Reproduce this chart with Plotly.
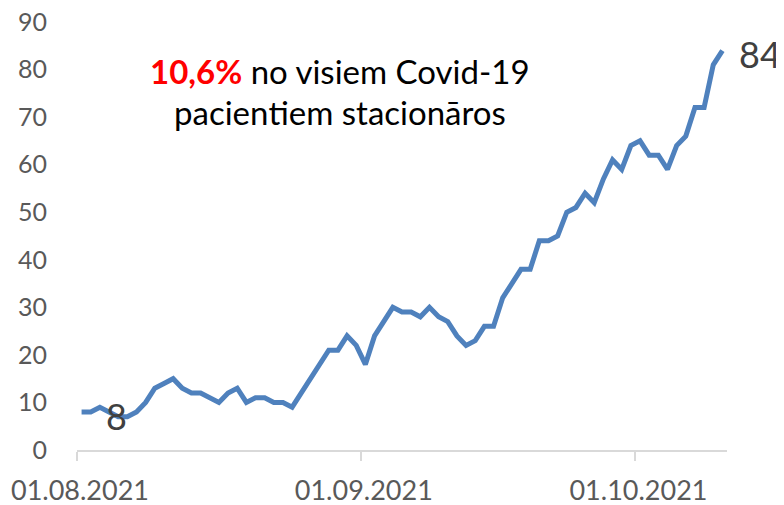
import pandas as pd
import plotly.graph_objects as go

start_date = "2021-08-01"
values = [8, 8, 9, 8, 7, 7, 8, 10, 13, 14, 15, 13, 12, 12, 11, 10, 12, 13, 10, 11,
          11, 10, 10, 9, 12, 15, 18, 21, 21, 24, 22, 18, 24, 27, 30, 29, 29, 28, 30, 28,
          27, 24, 22, 23, 26, 26, 32, 35, 38, 38, 44, 44, 45, 50, 51, 54, 52, 57, 61, 59,
          64, 65, 62, 62, 59, 64, 66, 72, 72, 81, 84]
dates = pd.date_range(start_date, periods=len(values), freq="D")
tick_dates = ["2021-08-01", "2021-09-01", "2021-10-01"]
tick_labels = ["01.08.2021", "01.09.2021", "01.10.2021"]
y_ticks = list(range(0, 91, 10))

FONT = "Lato"
GREY = "#595959"

fig = go.Figure()
fig.add_trace(go.Scatter(
    x=dates, y=values, mode="lines",
    xperiod=86400000, xperiodalignment="middle",
    line=dict(color="#4F81BD", width=5),
    hoverinfo="skip", showlegend=False, cliponaxis=False,
))

# data labels for first and last point
fig.add_annotation(x=dates[0] + pd.Timedelta(hours=12), y=values[0], text=str(values[0]),
                   xref="x", yref="y", showarrow=False, xanchor="left", yanchor="middle",
                   xshift=22, yshift=-4, font=dict(family=FONT, size=36, color="#404040"))
fig.add_annotation(x=dates[-1] + pd.Timedelta(hours=12), y=values[-1], text=str(values[-1]),
                   xref="x", yref="y", showarrow=False, xanchor="left", yanchor="middle",
                   xshift=15, yshift=-3, font=dict(family=FONT, size=36, color="#404040"))

fig.add_annotation(x=0.4046, y=0.886, xref="paper", yref="paper", showarrow=False,
                   xanchor="center", yanchor="middle",
                   text="<b><span style='color:#FF0000'>10,6%</span></b> no visiem Covid-19",
                   font=dict(family=FONT, size=33, color="#000000"))
fig.add_annotation(x=0.4046, y=0.789, xref="paper", yref="paper", showarrow=False,
                   xanchor="center", yanchor="middle",
                   text="pacien\u200ctiem stacionāros",
                   font=dict(family=FONT, size=33, color="#000000"))

# page body adds an 8px offset, so the figure is sized to fit the remaining window
fig.update_layout(
    width=776, height=497,
    margin=dict(l=69, r=57, t=14, b=55),
    paper_bgcolor="white", plot_bgcolor="white",
    xaxis=dict(
        type="date", range=["2021-08-01", "2021-10-11"],
        tickvals=tick_dates, ticktext=tick_labels,
        showgrid=False, zeroline=False, automargin=False,
        showline=True, linecolor="#D9D9D9", linewidth=1.5,
        ticks="outside", ticklen=9, tickcolor="#D9D9D9", tickwidth=1.5,
        tickfont=dict(family=FONT, size=27, color=GREY),
        ticklabelstandoff=7, ticklabelshift=3, ticklabeloverflow="allow",
    ),
    yaxis=dict(
        range=[0, 90], tickvals=y_ticks, automargin=False,
        showgrid=False, zeroline=False, showline=False,
        ticks="", tickfont=dict(family=FONT, size=25, color=GREY),
        ticklabelstandoff=29, ticklabeloverflow="allow",
    ),
)

fig.write_html("out.html")
